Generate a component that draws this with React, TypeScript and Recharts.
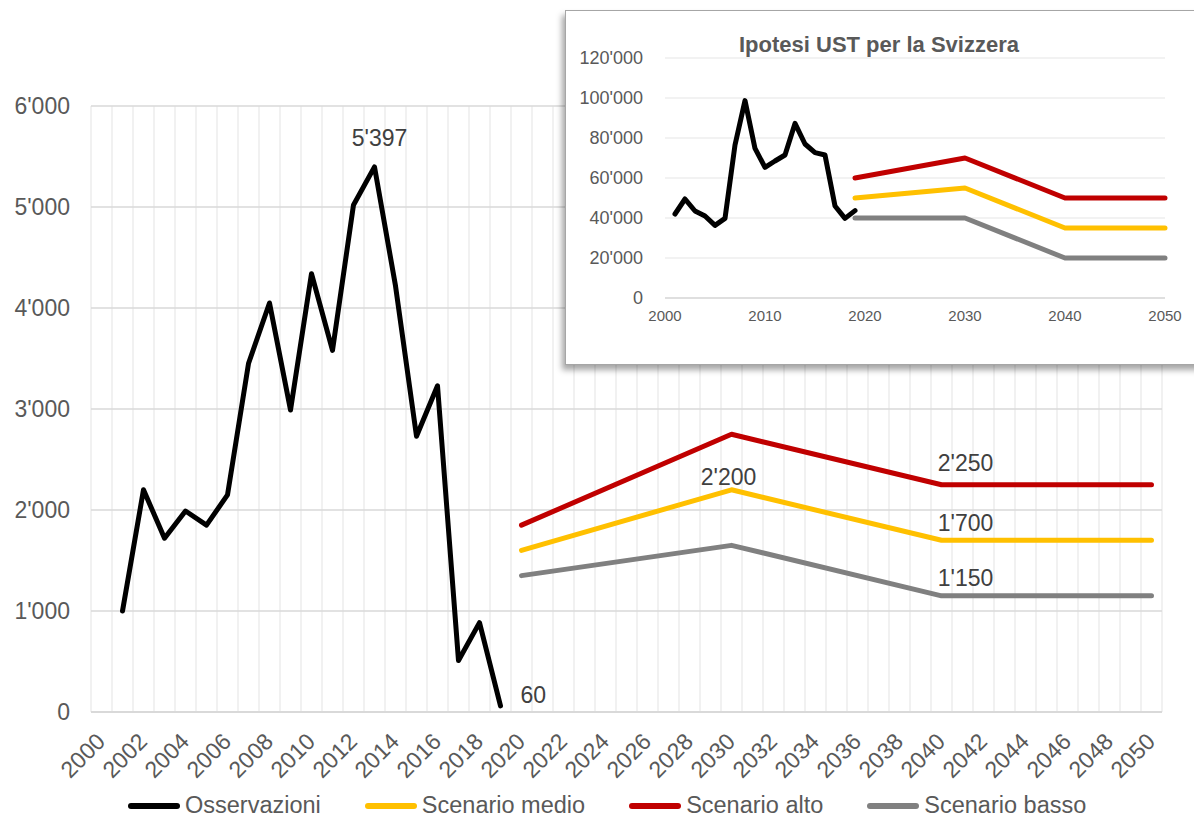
import React from "react";
import { CartesianGrid, Line, LineChart, XAxis, YAxis } from "recharts";

// main chart: UST demand in Ticino (yearly categories 2000-2050)
const years = Array.from({ length: 51 }, (_, i) => 2000 + i);
const tickYears = years.filter((y) => y % 2 === 0);

const obsYears = [2001, 2002, 2003, 2004, 2005, 2006, 2007, 2008, 2009, 2010, 2011, 2012, 2013, 2014, 2015, 2016, 2017, 2018, 2019];
const obsValues = [1000, 2200, 1720, 1990, 1850, 2150, 3450, 4050, 2990, 4340, 3580, 5020, 5397, 4220, 2730, 3230, 510, 885, 60];

const scenYears = [2020, 2030, 2040, 2050];
const medioValues = [1600, 2200, 1700, 1700];
const altoValues = [1850, 2750, 2250, 2250];
const bassoValues = [1350, 1650, 1150, 1150];
const yTicks = [0, 1000, 2000, 3000, 4000, 5000, 6000];

// inset: Switzerland
const chYears = [2001, 2002, 2003, 2004, 2005, 2006, 2007, 2008, 2009, 2010, 2011, 2012, 2013, 2014, 2015, 2016, 2017, 2018, 2019];
const chValues = [42000, 49500, 43500, 41000, 36300, 39800, 76500, 98700, 74800, 65300, 68500, 71500, 87300, 77000, 72700, 71500, 46000, 39800, 43700];
const chScenYears = [2019, 2030, 2040, 2050];
const chAlto = [60000, 70000, 50000, 50000];
const chMedio = [50000, 55000, 35000, 35000];
const chBasso = [40000, 40000, 20000, 20000];
const chXTicks = [2000, 2010, 2020, 2030, 2040, 2050];
const chYTicks = [0, 20000, 40000, 60000, 80000, 100000, 120000];

const FONT = '"Liberation Sans", Arial, sans-serif';
const TXT = "#595959";

const zip = (xs: number[], vs: number[]) => xs.map((year, i) => ({ year, value: vs[i] }));
const fmt = (v: number) => String(v).replace(/\B(?=(\d{3})+(?!\d))/g, "'");

const series = [
  { key: "obs", name: "Osservazioni", color: "#000000", data: zip(obsYears, obsValues) },
  { key: "medio", name: "Scenario medio", color: "#FFC000", data: zip(scenYears, medioValues) },
  { key: "alto", name: "Scenario alto", color: "#C00000", data: zip(scenYears, altoValues) },
  { key: "basso", name: "Scenario basso", color: "#808080", data: zip(scenYears, bassoValues) },
];

// where the data labels sit, per series and year: [dx, dy, anchor]
const labelSpots: Record<string, Record<number, [number, number, string]>> = {
  obs: { 2013: [5, -21, "middle"], 2019: [20, -3, "start"] },
  medio: { 2030: [-3, -5, "middle"], 2040: [24, -9, "middle"] },
  alto: { 2040: [24, -14, "middle"] },
  basso: { 2040: [24, -10, "middle"] },
};

const makeLabel = (key: string, data: { year: number; value: number }[]) => (p: any) => {
  const d = data[p.index];
  const spot = d && labelSpots[key][d.year];
  if (!spot) return null;
  return (
    <text key={`${key}-${p.index}`} x={p.x + spot[0]} y={p.y + spot[1]} textAnchor={spot[2] as any} fontSize={23} fill="#404040" fontFamily={FONT}>
      {fmt(d.value)}
    </text>
  );
};

const RotTick = ({ x, y, payload }: any) => (
  <text x={x + 5} y={y + 31} transform={`rotate(-45 ${x + 5} ${y + 31})`} textAnchor="end" fontSize={23} fill={TXT} fontFamily={FONT}>
    {payload.value}
  </text>
);

function Inset() {
  const chSeries = [
    { color: "#000000", data: zip(chYears, chValues) },
    { color: "#C00000", data: zip(chScenYears, chAlto) },
    { color: "#FFC000", data: zip(chScenYears, chMedio) },
    { color: "#808080", data: zip(chScenYears, chBasso) },
  ];
  return (
    <div
      style={{
        position: "absolute",
        left: 565,
        top: 10,
        width: 640,
        height: 353,
        background: "#fff",
        border: "1px solid #a6a6a6",
        boxShadow: "-3px 5px 6px rgba(0,0,0,0.35)",
      }}
    >
      <div style={{ position: "absolute", left: 0, width: 626, top: 23, textAlign: "center", fontFamily: FONT, fontWeight: "bold", fontSize: 22, lineHeight: "22px", color: TXT }}>
        Ipotesi UST per la Svizzera
      </div>
      <LineChart width={640} height={353} margin={{ top: 47, right: 41, bottom: 36, left: 0 }}>
        <CartesianGrid vertical={false} stroke="#eeeeee" strokeWidth={1.5} />
        <XAxis
          type="number"
          dataKey="year"
          domain={[2000, 2050]}
          ticks={chXTicks}
          interval={0}
          tickLine={false}
          tickSize={0}
          tickMargin={12}
          axisLine={{ stroke: "#d9d9d9", strokeWidth: 1.5 }}
          tick={{ fill: TXT, fontSize: 15, fontFamily: FONT }}
        />
        <YAxis
          width={99}
          domain={[0, 120000]}
          ticks={chYTicks}
          interval={0}
          tickFormatter={fmt}
          tickLine={false}
          axisLine={false}
          tickSize={0}
          tickMargin={22}
          tick={{ fill: TXT, fontSize: 18, fontFamily: FONT }}
        />
        {chSeries.map((s, i) => (
          <Line
            key={i}
            data={s.data}
            dataKey="value"
            type="linear"
            stroke={s.color}
            strokeWidth={5}
            strokeLinejoin="round"
            strokeLinecap="round"
            dot={false}
            activeDot={false}
            isAnimationActive={false}
          />
        ))}
      </LineChart>
    </div>
  );
}

export default function App() {
  return (
    <div style={{ position: "absolute", left: 0, top: 0, width: 1194, height: 817, overflow: "hidden", background: "#fff", fontFamily: FONT }}>
      <LineChart width={1194} height={817} margin={{ top: 106, right: 32, bottom: 45, left: 0 }}>
        <CartesianGrid horizontal={false} stroke="#ececec" strokeWidth={1.5} verticalValues={[...years.map((y) => y - 0.5), 2050.5]} />
        <CartesianGrid vertical={false} stroke="#d9d9d9" strokeWidth={1.5} />
        <XAxis
          type="number"
          dataKey="year"
          domain={[1999.5, 2050.5]}
          ticks={tickYears}
          interval={0}
          height={60}
          tickLine={false}
          tickSize={0}
          tickMargin={0}
          axisLine={{ stroke: "#d9d9d9", strokeWidth: 2 }}
          tick={<RotTick />}
        />
        <YAxis
          width={91}
          domain={[0, 6000]}
          ticks={yTicks}
          interval={0}
          tickFormatter={fmt}
          tickLine={false}
          axisLine={false}
          tickSize={0}
          tickMargin={21}
          tick={{ fill: TXT, fontSize: 23, fontFamily: FONT }}
        />
        {series.map((s) => (
          <Line
            key={s.key}
            name={s.name}
            data={s.data}
            dataKey="value"
            type="linear"
            stroke={s.color}
            strokeWidth={5}
            strokeLinejoin="round"
            strokeLinecap="round"
            dot={false}
            activeDot={false}
            isAnimationActive={false}
            label={makeLabel(s.key, s.data)}
          />
        ))}
      </LineChart>
      <Inset />
      <div style={{ position: "absolute", left: 128, top: 794, display: "flex", gap: 44, alignItems: "center" }}>
        {series.map((s) => (
          <div key={s.key} style={{ display: "flex", alignItems: "center", gap: 5 }}>
            <svg width={52} height={8}>
              <line x1={3} y1={4} x2={49} y2={4} stroke={s.color} strokeWidth={6} strokeLinecap="round" />
            </svg>
            <span style={{ fontSize: 23.5, lineHeight: "23px", color: TXT }}>{s.name}</span>
          </div>
        ))}
      </div>
    </div>
  );
}
